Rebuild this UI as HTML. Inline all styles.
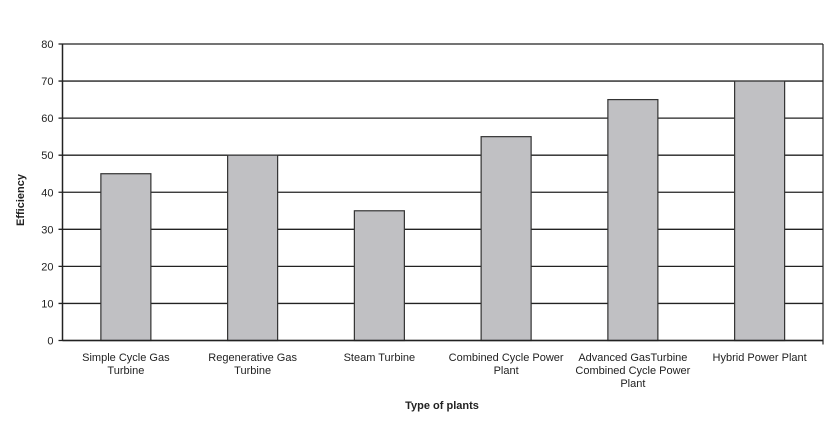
<!DOCTYPE html>
<html><head><meta charset="utf-8"><style>
body{margin:0;background:#fff;}
svg text{font-family:"Liberation Sans",Arial,sans-serif;fill:#222;}
</style></head><body>
<svg width="832" height="416" xmlns="http://www.w3.org/2000/svg">
<g id="grid"></g>
<g id="bars"></g>
<g id="axes"></g>
<g id="labels"></g>
<text x="24" y="200" font-size="11" font-weight="bold" text-anchor="middle" transform="rotate(-90 24 200)">Efficiency</text>
<text x="442" y="409" font-size="11" font-weight="bold" text-anchor="middle">Type of plants</text>
</svg>
<script>
const categories=[["Simple Cycle Gas","Turbine"],["Regenerative Gas","Turbine"],["Steam Turbine"],["Combined Cycle Power","Plant"],["Advanced GasTurbine","Combined Cycle Power","Plant"],["Hybrid Power Plant"]];
const values=[45,50,35,55,65,70];
const yTicks=[0,10,20,30,40,50,60,70,80];
const X0=62.5,X1=823,Y0=340.5,Y1=44,YMAX=80;
const NS="http://www.w3.org/2000/svg";
function y(v){return Y0-(v/YMAX)*(Y0-Y1);}
const bw=(X1-X0)/categories.length;
function xc(i){return X0+bw*(i+0.5);}
function mk(tag,attrs,parent){const e=document.createElementNS(NS,tag);for(const k in attrs)e.setAttribute(k,attrs[k]);document.getElementById(parent).appendChild(e);return e;}
yTicks.forEach(t=>{
  const l=mk('line',{x1:X0-4,x2:X1,y1:y(t),y2:y(t),stroke:'#222','stroke-width':1.3},'grid');
  
  
  const tx=mk('text',{x:X0-9,y:y(t)+4,'font-size':11,'text-anchor':'end'},'labels');
  tx.textContent=t;
  
  
});
values.forEach((v,i)=>{
  const r=mk('rect',{x:xc(i)-25,y:y(v),width:50,height:Y0-y(v),fill:'#c0c0c3',stroke:'#333','stroke-width':1.2},'bars');
  
  
});
categories.forEach((c,i)=>{
  c.forEach((line,j)=>{
    const t=mk('text',{x:xc(i),y:361+j*13,'font-size':11,'text-anchor':'middle'},'labels');
    t.textContent=line;
    
    
  });
});
let a=mk('line',{x1:X0,x2:X0,y1:Y1,y2:Y0,stroke:'#222','stroke-width':1.5},'axes');


a=mk('line',{x1:X0,x2:X1,y1:Y0,y2:Y0,stroke:'#222','stroke-width':1.5},'axes');


a=mk('line',{x1:X1,x2:X1,y1:Y1,y2:Y0+4,stroke:'#222','stroke-width':1.2},'axes');


</script>
</body></html>
